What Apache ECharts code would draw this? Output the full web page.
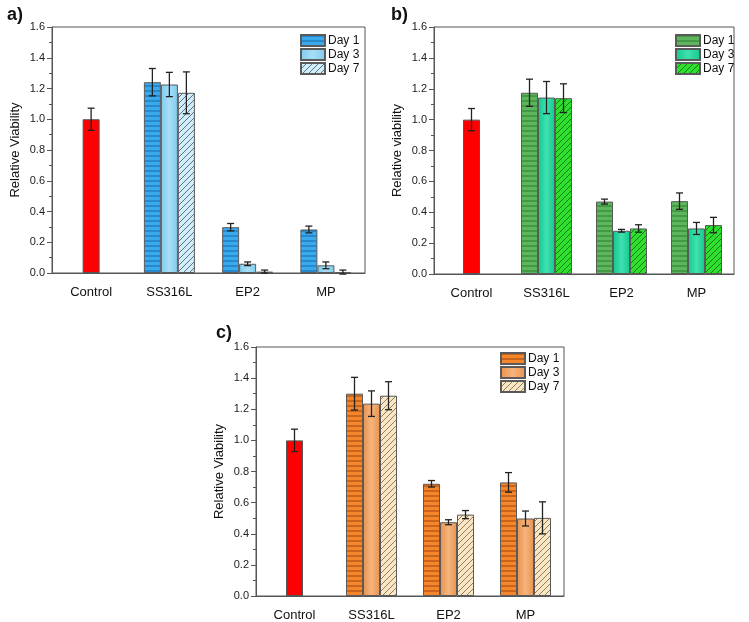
<!DOCTYPE html>
<html>
<head>
<meta charset="utf-8">
<script src="https://cdn.jsdelivr.net/npm/echarts@6/dist/echarts.min.js"></script>
<style>
html,body{margin:0;padding:0;background:#fff;}
#chart{width:749px;height:622px;}
</style>
</head>
<body>
<div id="chart"></div>
<script>
// ---------- data ----------
const categories = ['Control', 'SS316L', 'EP2', 'MP'];
const dayNames = ['Day 1', 'Day 3', 'Day 7'];
const yTicks = [0, 0.2, 0.4, 0.6, 0.8, 1.0, 1.2, 1.4, 1.6];

// Control (shared by all panels)
const controlValue = 1.00;
const controlErr = 0.072;

// Panel a) values for SS316L, EP2, MP
const aDay1 = [1.241, 0.298, 0.283];
const aDay3 = [1.226, 0.060, 0.050];
const aDay7 = [1.172, 0.009, 0.006];
const aDay1Err = [0.089, 0.024, 0.022];
const aDay3Err = [0.079, 0.012, 0.022];
const aDay7Err = [0.136, 0.010, 0.013];

// Panel b)
const bDay1 = [1.174, 0.469, 0.472];
const bDay3 = [1.143, 0.280, 0.295];
const bDay7 = [1.139, 0.295, 0.317];
const bDay1Err = [0.088, 0.016, 0.053];
const bDay3Err = [0.104, 0.009, 0.039];
const bDay7Err = [0.093, 0.024, 0.050];

// Panel c)
const cDay1 = [1.300, 0.721, 0.730];
const cDay3 = [1.236, 0.474, 0.498];
const cDay7 = [1.287, 0.523, 0.502];
const cDay1Err = [0.105, 0.021, 0.063];
const cDay3Err = [0.082, 0.016, 0.048];
const cDay7Err = [0.090, 0.026, 0.103];

// ---------- styles ----------
const BAR_W = 17;
const FONT = 'Liberation Sans, Arial, sans-serif';

function stripePattern(base, band, period, bandH) {
  const c = document.createElement('canvas');
  c.width = 4; c.height = period;
  const g = c.getContext('2d');
  g.fillStyle = base; g.fillRect(0, 0, 4, period);
  g.fillStyle = band; g.fillRect(0, 0, 4, bandH);
  return { image: c, repeat: 'repeat' };
}
function hatchPattern(bg, line) {
  const s = 6;
  const c = document.createElement('canvas');
  c.width = s; c.height = s;
  const g = c.getContext('2d');
  g.fillStyle = bg; g.fillRect(0, 0, s, s);
  g.strokeStyle = line; g.lineWidth = 1;
  g.beginPath();
  g.moveTo(0, s); g.lineTo(s, 0);
  g.moveTo(-1, 1); g.lineTo(1, -1);
  g.moveTo(s - 1, s + 1); g.lineTo(s + 1, s - 1);
  g.stroke();
  return { image: c, repeat: 'repeat' };
}
function vGrad(edge, center) {
  return { type: 'linear', x: 0, y: 0, x2: 1, y2: 0,
    colorStops: [{ offset: 0, color: edge }, { offset: 0.5, color: center }, { offset: 1, color: edge }] };
}

const panels = [
  { key: 'a', title: 'a)', yName: 'Relative Viability',
    grid: { left: 52, top: 27, width: 313, height: 246 },
    legend: { left: 300, top: 34 },
    titlePos: { left: 2, top: 1 },
    values: [aDay1, aDay3, aDay7], errs: [aDay1Err, aDay3Err, aDay7Err],
    fills: [stripePattern('#3aaaec', '#2788cc', 5, 2), vGrad('#7ccbee', '#a8def6'), hatchPattern('#d3ecf8', '#4a7890')] },
  { key: 'b', title: 'b)', yName: 'Relative viability',
    grid: { left: 434, top: 27, width: 300, height: 247 },
    legend: { left: 675, top: 34 },
    titlePos: { left: 386, top: 1 },
    values: [bDay1, bDay3, bDay7], errs: [bDay1Err, bDay3Err, bDay7Err],
    fills: [stripePattern('#5db65d', '#449a44', 5, 2), vGrad('#10c98c', '#40e0b0'), hatchPattern('#2ee02e', '#137a13')] },
  { key: 'c', title: 'c)', yName: 'Relative Viability',
    grid: { left: 256, top: 347, width: 308, height: 250 },
    legend: { left: 500, top: 352 },
    titlePos: { left: 211, top: 319 },
    values: [cDay1, cDay3, cDay7], errs: [cDay1Err, cDay3Err, cDay7Err],
    fills: [stripePattern('#f5862a', '#c9641c', 5, 2), vGrad('#e8924e', '#f6b47c'), hatchPattern('#f7e7c6', '#9c7a52')] }
];

function errRender(offsetIdx) {
  return function (params, api) {
    const cat = api.value(0), lo = api.value(1), hi = api.value(2);
    const pTop = api.coord([cat, hi]);
    const pBot = api.coord([cat, lo]);
    const x = pTop[0] + offsetIdx * BAR_W;
    const st = { stroke: '#222', lineWidth: 1.3 };
    const cap = 3.5;
    return { type: 'group', children: [
      { type: 'line', shape: { x1: x, y1: pTop[1], x2: x, y2: pBot[1] }, style: st },
      { type: 'line', shape: { x1: x - cap, y1: pTop[1], x2: x + cap, y2: pTop[1] }, style: st },
      { type: 'line', shape: { x1: x - cap, y1: pBot[1], x2: x + cap, y2: pBot[1] }, style: st }
    ]};
  };
}

const grid = [], xAxis = [], yAxis = [], series = [], legend = [], title = [];
panels.forEach((p, pi) => {
  grid.push(Object.assign({ show: true, borderColor: '#555', borderWidth: 1, backgroundColor: 'transparent' }, p.grid));
  title.push({ text: p.title, left: p.titlePos.left, top: p.titlePos.top,
    textStyle: { fontSize: 18, fontWeight: 'bold', color: '#111', fontFamily: FONT } });
  const xDays = xAxis.length;
  xAxis.push({ type: 'category', gridIndex: pi, data: categories,
    axisLine: { lineStyle: { color: '#555', width: 1 } },
    axisTick: { alignWithLabel: true, length: 4, lineStyle: { color: '#555' } },
    axisLabel: { fontSize: 13, color: '#111', margin: 13, fontFamily: FONT },
    splitLine: { show: false } });
  const xCtrl = xAxis.length;
  xAxis.push({ type: 'category', gridIndex: pi, data: categories, show: false });
  yAxis.push({ type: 'value', gridIndex: pi, min: yTicks[0], max: yTicks[yTicks.length - 1], interval: 0.2,
    name: p.yName, nameLocation: 'middle', nameGap: 30,
    nameTextStyle: { fontSize: 13, color: '#111', fontFamily: FONT },
    axisLine: { show: true, lineStyle: { color: '#555', width: 1 } },
    axisTick: { show: true, length: 5, lineStyle: { color: '#555' } },
    minorTick: { show: true, splitNumber: 2, length: 3, lineStyle: { color: '#555' } },
    splitLine: { show: false },
    axisLabel: { fontSize: 11, color: '#222', margin: 7, fontFamily: FONT, formatter: v => v.toFixed(1) } });

  // control bar
  series.push({ type: 'bar', name: p.key + '|Control', xAxisIndex: xCtrl, yAxisIndex: pi,
    barWidth: BAR_W, data: [controlValue, '-', '-', '-'],
    itemStyle: { color: '#ff0000', borderColor: '#555', borderWidth: 1 } });
  series.push({ type: 'custom', name: p.key + '|ctrlErr', xAxisIndex: xCtrl, yAxisIndex: pi, z: 10,
    renderItem: errRender(0), encode: { x: 0, y: [1, 2] },
    data: [[0, controlValue - controlErr, controlValue + controlErr]] });

  dayNames.forEach((d, di) => {
    series.push({ type: 'bar', name: p.key + '|' + d, xAxisIndex: xDays, yAxisIndex: pi,
      barWidth: BAR_W, barGap: '0%',
      data: ['-'].concat(p.values[di]),
      itemStyle: { color: p.fills[di], borderColor: '#5a5a5a', borderWidth: 1 } });
  });
  dayNames.forEach((d, di) => {
    series.push({ type: 'custom', name: p.key + '|err' + di, xAxisIndex: xDays, yAxisIndex: pi, z: 10,
      renderItem: errRender(di - 1), encode: { x: 0, y: [1, 2] },
      data: p.values[di].map((v, k) => [k + 1, v - p.errs[di][k], v + p.errs[di][k]]) });
  });
  legend.push({ left: p.legend.left, top: p.legend.top, orient: 'vertical', padding: 0,
    itemWidth: 24, itemHeight: 11, itemGap: 1, icon: 'rect', selectedMode: false,
    data: dayNames.map(d => p.key + '|' + d),
    formatter: n => n.split('|')[1],
    textStyle: { fontSize: 12, lineHeight: 11, color: '#111', fontFamily: FONT, padding: [0, 0, 0, -2] } });
});

const chart = echarts.init(document.getElementById('chart'), null, { renderer: 'canvas' });
chart.setOption({
  animation: false,
  backgroundColor: '#fff',
  textStyle: { fontFamily: FONT },
  title, grid, xAxis, yAxis, legend, series
});
</script>
</body>
</html>
